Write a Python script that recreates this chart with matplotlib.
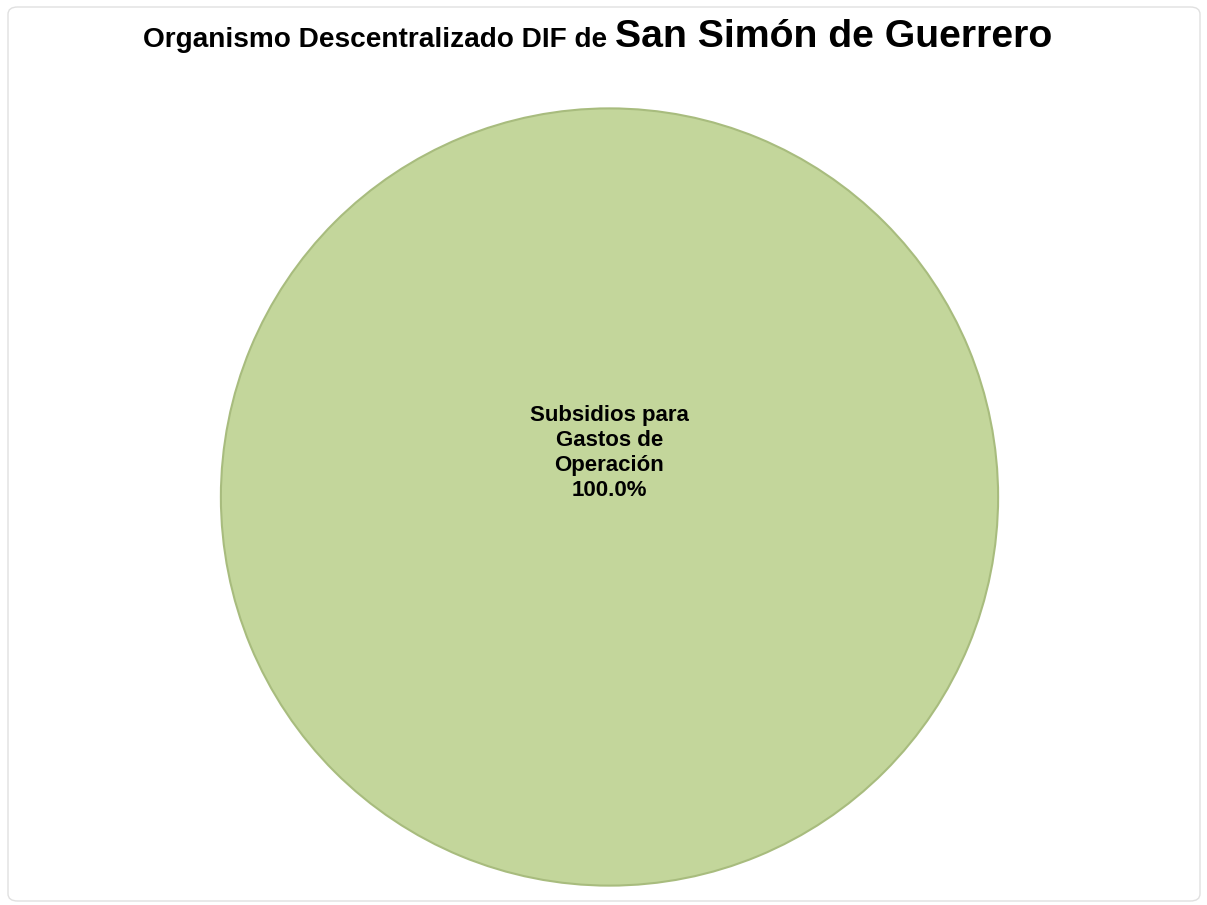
import matplotlib.pyplot as plt
from matplotlib.patches import FancyBboxPatch

# data
categories = ["Subsidios para\nGastos de\nOperación"]
values = [100.0]
pie_color = "#C3D69B"

W, H = 1207, 905
fig = plt.figure(figsize=(W / 100, H / 100), dpi=100)
fig.patch.set_facecolor("white")

# faint chart border
border = FancyBboxPatch((8 / W, 4 / H), 1192 / W, 894 / H,
                        boxstyle="round,pad=0,rounding_size=0.008",
                        transform=fig.transFigure, facecolor="none",
                        edgecolor="#E0E0E0", linewidth=1.0)
fig.patches.append(border)

# pie axes: center ~ (609, 497) px, radius ~ 390 px
cx, cy, r = 609.5, 497, 392.5
ax = fig.add_axes([(cx - r) / W, (H - cy - r) / H, 2 * r / W, 2 * r / H])
total = sum(values)
labels = [f"{c}\n{v / total * 100:.1f}%" for c, v in zip(categories, values)]
wedges, texts = ax.pie(values, labels=labels, colors=[pie_color],
                       startangle=270, labeldistance=0.113, radius=1.0,
                       wedgeprops=dict(edgecolor="#A8BC7E", linewidth=1.5),
                       textprops=dict(fontsize=16, fontweight="bold",
                                      family="Liberation Sans", color="black"))
for t in texts:
    t.set_ha("center")
    t.set_va("center")
    t.set_multialignment("center")
    t.set_linespacing(1.24)
ax.set_xlim(-1.01, 1.01)
ax.set_ylim(-1.01, 1.01)
ax.set_aspect("equal")
ax.axis("off")

# title, the second half is larger
base_y = 1 - 47 / H
t1 = fig.text(143 / W, base_y, "Organismo Descentralizado DIF de ",
              fontsize=20.2, fontweight="bold", family="Liberation Sans",
              ha="left", va="baseline")
fig.canvas.draw()
bb = t1.get_window_extent()
fig.text(bb.x1 / W, base_y, "San Simón de Guerrero",
         fontsize=28.3, fontweight="bold", family="Liberation Sans",
         ha="left", va="baseline")

fig.savefig("out.png", dpi=100)
